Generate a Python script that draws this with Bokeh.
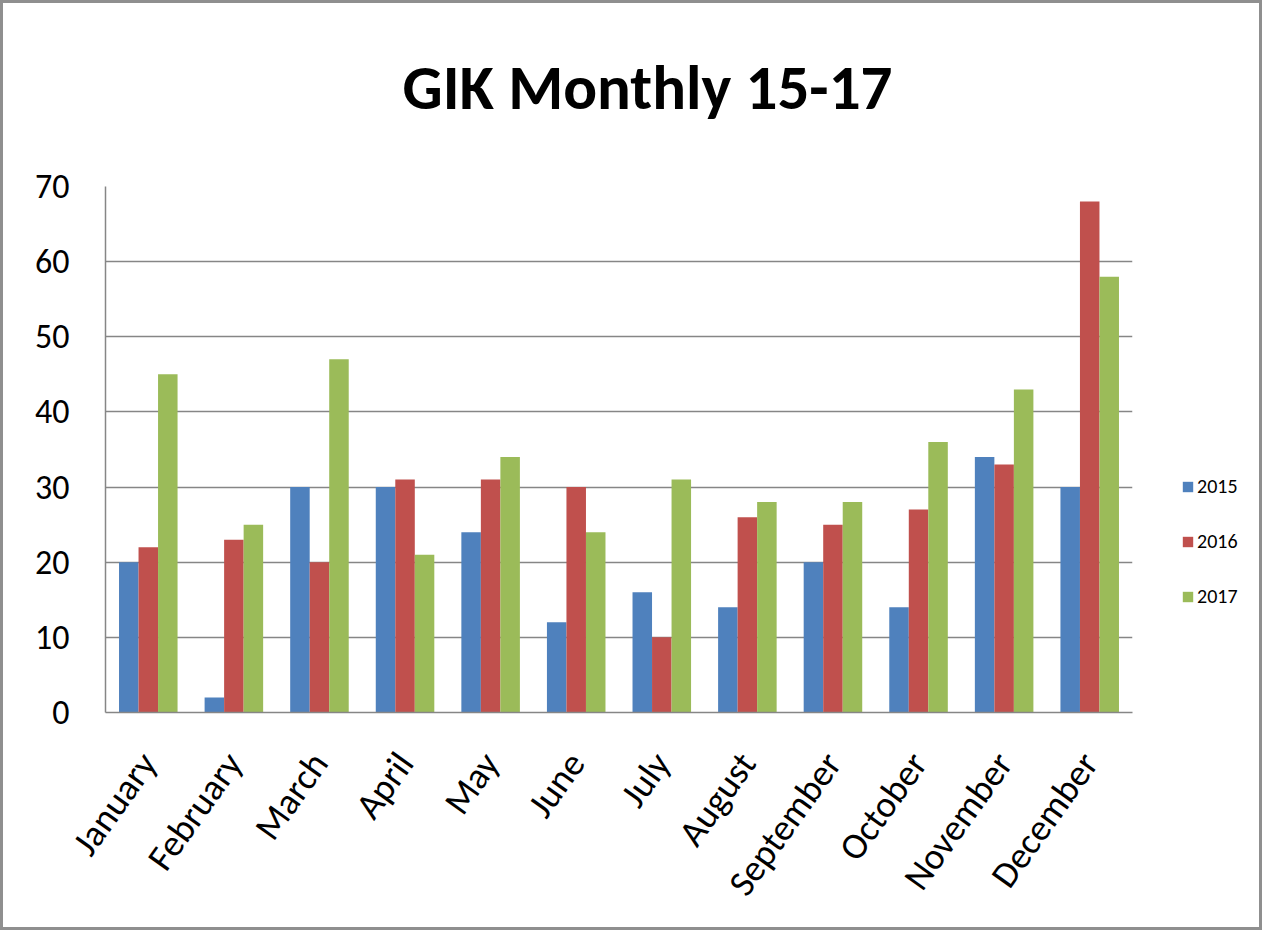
from bokeh.plotting import figure
from bokeh.layouts import row
from bokeh.models import (FactorRange, Legend, LegendItem, SingleIntervalTicker, Range1d,
                          ColumnDataSource, Title)
from bokeh.transform import dodge
from bokeh.embed import file_html
from bokeh.resources import INLINE

months = ["January", "February", "March", "April", "May", "June", "July",
          "August", "September", "October", "November", "December"]
years = ["2015", "2016", "2017"]
v2015 = [20, 2, 30, 30, 24, 12, 16, 14, 20, 14, 34, 30]
v2016 = [22, 23, 20, 31, 31, 30, 10, 26, 25, 27, 33, 68]
v2017 = [45, 25, 47, 21, 34, 24, 31, 28, 28, 36, 43, 58]
colors = ["#4F81BD", "#C0504D", "#9BBB59"]

FONT = "Carlito, 'Liberation Sans Narrow', 'DejaVu Sans Condensed', 'Open Sans', sans-serif"

source = ColumnDataSource(dict(month=months, v2015=v2015, v2016=v2016, v2017=v2017))

H = 924
p = figure(x_range=FactorRange(*months, range_padding=0), y_range=Range1d(0, 70),
           width=1139, height=H, output_backend="svg", toolbar_location=None,
           min_border_left=102, min_border_right=10, min_border_top=183, min_border_bottom=215)

bw = 0.228
for i, (yr, col) in enumerate(zip(years, colors)):
    p.vbar(x=dodge("month", (i - 1) * bw, range=p.x_range), top="v" + yr, width=bw,
           source=source, fill_color=col, line_color=None)

# title: a thin spacer title next to the frame, the real title above it
p.title.text = ""
spacer = Title(text=" ", text_font_size="1px", standoff=53)
p.add_layout(spacer, "above")
main_title = Title(text="GIK Monthly 15-17", align="left", offset=297, standoff=10,
                   text_font=FONT, text_font_size="63px", text_font_style="bold",
                   text_color="black")
p.add_layout(main_title, "above")

p.outline_line_color = None
p.xgrid.grid_line_color = None
p.ygrid.grid_line_color = "#868686"
p.ygrid.grid_line_width = 1.5
p.yaxis.ticker = SingleIntervalTicker(interval=10)
p.yaxis.axis_line_color = "#868686"
p.yaxis.axis_line_width = 1.5
p.yaxis.major_tick_line_color = None
p.yaxis.minor_tick_line_color = None
p.yaxis.major_label_text_font = FONT
p.yaxis.major_label_text_font_size = "34px"
p.yaxis.major_label_text_color = "black"
p.yaxis.major_label_standoff = 30

p.xaxis.axis_line_color = "#868686"
p.xaxis.axis_line_width = 1.5
p.xaxis.major_tick_line_color = None
p.xaxis.minor_tick_line_color = None
p.xaxis.major_label_orientation = 0.95
p.xaxis.major_label_text_font = FONT
p.xaxis.major_label_text_font_size = "37px"
p.xaxis.major_label_text_color = "black"
p.xaxis.major_label_standoff = 38

# legend panel (separate narrow figure to the right of the plot area);
# its proxy bars have no x position, so only the legend shows
pl = figure(width=117, height=H, output_backend="svg", toolbar_location=None,
            x_range=Range1d(0, 1), y_range=Range1d(1000, 1001),
            min_border_left=0, min_border_right=0, min_border_top=0, min_border_bottom=0)
pl.axis.visible = False
pl.grid.visible = False
pl.outline_line_color = None
items = []
for yr, col in zip(years, colors):
    r = pl.vbar(x=float("nan"), bottom="v" + yr, top="v" + yr, width=0.1, source=source,
                fill_color=col, line_color=None)
    items.append(LegendItem(label=yr, renderers=[r]))

legend = Legend(items=items, location=(39, 104))
legend.border_line_color = None
legend.background_fill_alpha = 0
legend.glyph_width = 13
legend.glyph_height = 13
legend.label_text_font = FONT
legend.label_text_font_size = "20px"
legend.label_text_color = "black"
legend.label_standoff = 3
legend.spacing = 31
legend.margin = 0
legend.padding = 4
pl.add_layout(legend)

layout = row(p, pl, styles={"border": "3px solid #8f8f8f"})

open("out.html", "w").write(file_html(layout, INLINE))
